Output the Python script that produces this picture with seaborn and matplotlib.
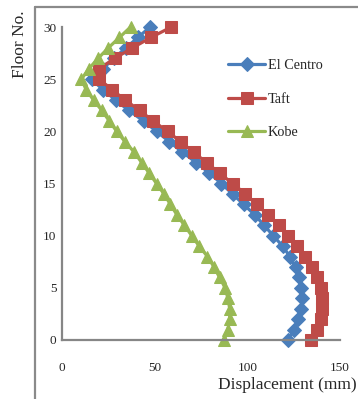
import matplotlib

matplotlib.use("Agg")
import matplotlib.pyplot as plt
import numpy as np
import pandas as pd
import seaborn as sns
from matplotlib.lines import Line2D

# floors 0..30 and displacement (mm)
floors = list(range(31))
el_centro = [122, 125, 127.5, 129, 129.5, 129, 128, 126, 123, 119,
             114, 109, 104, 98, 92, 86, 79.5, 72.5, 65, 58,
             51, 44, 36, 29, 22, 16, 22, 28, 34.5, 41, 47.5]
taft = [134.5, 137.5, 139.5, 140.5, 140.5, 139.5, 137.5, 135, 131, 127,
        122, 117, 111, 105, 99, 92, 85, 78, 71, 64,
        57, 49, 42, 34, 27, 20, 20, 28.5, 38, 48, 59]
kobe = [87.5, 89.5, 90.5, 90.5, 89.5, 88, 85, 82, 78.5, 74,
        70, 66, 62, 58.5, 55, 51, 47, 43, 39, 34,
        29.5, 25.5, 21.5, 17, 13, 10.5, 14.5, 19.5, 25, 31, 37]

series_names = ["El Centro", "Taft", "Kobe"]
series_values = [el_centro, taft, kobe]
series_colors = ["#4A7EBB", "#BE4B48", "#98B954"]
series_markers = ["D", "s", "^"]
series_msize = [7, 8, 8]

sns.set_style("white")
plt.rcParams["font.family"] = ["Liberation Serif", "DejaVu Serif"]

fig = plt.figure(figsize=(3.58, 3.99), dpi=100)
ax = fig.add_axes([0.1732, 0.1479, 0.7765, 0.7844])

for name, vals, col, mk, ms in zip(series_names, series_values, series_colors,
                                   series_markers, series_msize):
    df = pd.DataFrame({"disp": vals, "floor": floors})
    sns.lineplot(data=df, x="disp", y="floor", orient="y", ax=ax,
                 color=col, linewidth=2.3, marker=mk, markersize=ms,
                 markeredgecolor=col, label=name, clip_on=False)

ax.set_xlim(0, 150)
ax.set_ylim(0, 30)
ax.set_xticks([0, 50, 100, 150])
ax.set_yticks(np.arange(0, 31, 5))

for s in ["top", "right"]:
    ax.spines[s].set_visible(False)
for s in ["left", "bottom"]:
    ax.spines[s].set_color("#868686")
    ax.spines[s].set_linewidth(1.6)

ax.tick_params(axis="x", direction="out", length=4, width=1.2, color="#868686",
               pad=12, labelsize=9.5)
ax.tick_params(axis="y", direction="out", length=3, width=1.2, color="#868686",
               pad=1, labelsize=9.5)

ax.set_xlabel("Displacement (mm)", fontsize=12.5)
ax.xaxis.set_label_coords(0.81, -0.118)
ax.set_ylabel("Floor No.", fontsize=12.5)
ax.yaxis.set_label_coords(-0.122, 0.946)

ax.legend(loc="upper left", bbox_to_anchor=(0.572, 0.92), frameon=False,
          fontsize=10.3, handlelength=2.6, labelspacing=1.42,
          handletextpad=0.15, borderpad=0, numpoints=1)

# outer chart-area border (left and top visible)
fig.add_artist(Line2D([0.0978, 0.0978], [0, 0.9825], transform=fig.transFigure,
                      color="#8a8a8a", linewidth=1.6))
fig.add_artist(Line2D([0.0978, 1.0], [0.9825, 0.9825], transform=fig.transFigure,
                      color="#8a8a8a", linewidth=1.6))

fig.savefig("out.png", dpi=100)
